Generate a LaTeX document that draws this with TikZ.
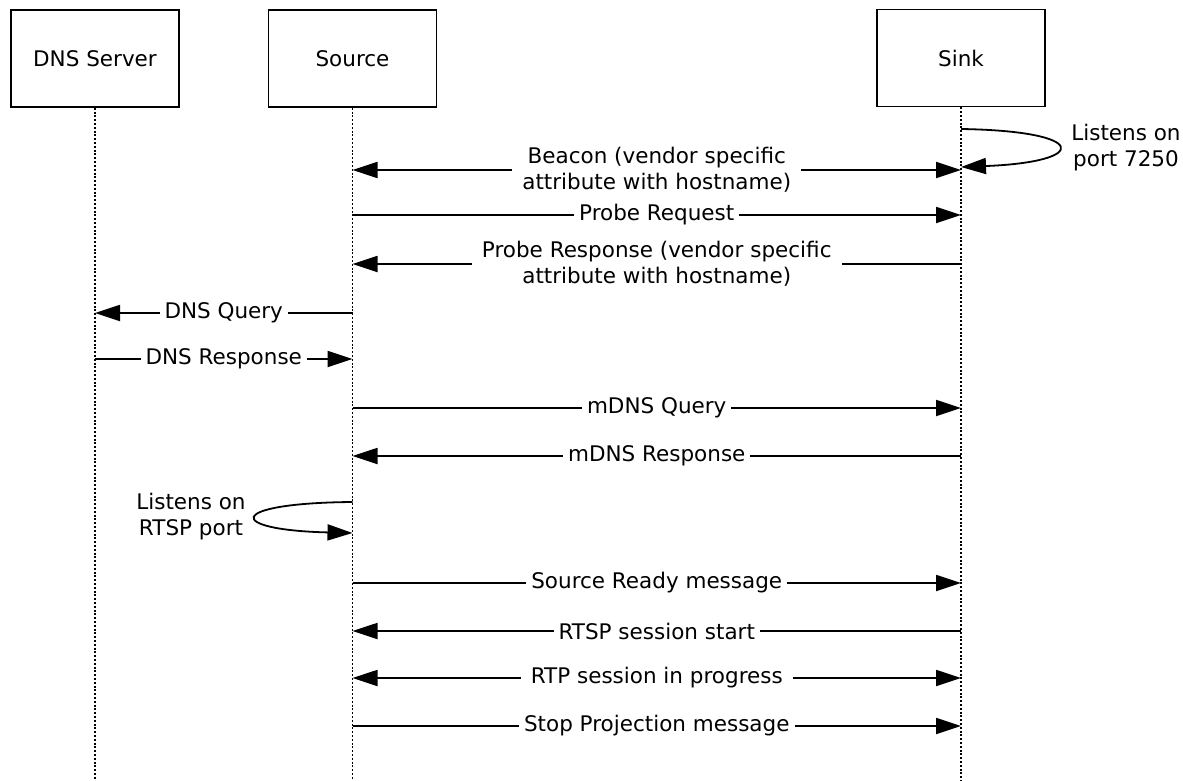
\documentclass[tikz,border=0pt]{standalone}
\usepackage{fontspec}
\setmainfont{DejaVu Sans}
\usetikzlibrary{arrows.meta}
\begin{document}
\begin{tikzpicture}[x=1pt,y=-1pt,
  >={Triangle[length=25pt,width=16pt]},
  txt/.style={font=\fontsize{21.5}{26}\selectfont},
  box/.style={txt,draw,line width=1.8pt,minimum width=168pt,minimum height=97pt},
  life/.style={line width=1.6pt,dash pattern=on 2pt off 1.8pt},
  msg/.style={line width=1.8pt},
  lbl/.style={txt,fill=white,inner xsep=5pt,inner ysep=1pt,align=center},
  wlbl/.style={lbl,inner xsep=10pt}]
\useasboundingbox (0,0) rectangle (1183,781);
% participants
\node[box] (dns) at (95,58.5) {DNS Server};
\node[box] (src) at (352.5,58.5) {Source};
\node[box] (snk) at (961,58) {Sink};
% lifelines
\coordinate (dnsE) at (dns |- 0,781);
\coordinate (srcE) at (src |- 0,781);
\coordinate (snkE) at (snk |- 0,781);
\draw[life] (dns.south) -- (dnsE);
\draw[life] (src.south) -- (srcE);
\draw[life] (snk.south) -- (snkE);
% sink self loop
\coordinate (k1) at (snk |- 0,129);
\coordinate (k2) at (snk |- 0,167);
\draw[msg,->] (k1) .. controls (1090,131) and (1090,162) .. (k2);
\node[txt,align=center] (l1) at (1126,148) {Listens on\\port 7250};
% messages
\draw[msg,<->] (src |- 0,170) -- node[wlbl] (m1) {Beacon (vendor specific\\attribute with hostname)} (snk |- 0,170);
\draw[msg,->] (src |- 0,215) -- node[lbl] (m2) {Probe Request} (snk |- 0,215);
\draw[msg,->] (snk |- 0,264) -- node[wlbl] (m3) {Probe Response (vendor specific\\attribute with hostname)} (src |- 0,264);
\draw[msg,->] (src |- 0,313) -- node[lbl] (m4) {DNS Query} (dns |- 0,313);
\draw[msg,->] (dns |- 0,359) -- node[lbl] (m5) {DNS Response} (src |- 0,359);
\draw[msg,->] (src |- 0,408) -- node[lbl] (m6) {mDNS Query} (snk |- 0,408);
\draw[msg,->] (snk |- 0,456) -- node[lbl] (m7) {mDNS Response} (src |- 0,456);
% source self loop
\coordinate (r1) at (src |- 0,502);
\coordinate (r2) at (src |- 0,533);
\draw[msg,->] (r1) .. controls (225,503) and (225,530) .. (r2);
\node[txt,align=center] (l2) at (191,517) {Listens on\\RTSP port};
\draw[msg,->] (src |- 0,583) -- node[lbl] (m8) {Source Ready message} (snk |- 0,583);
\draw[msg,->] (snk |- 0,631) -- node[lbl] (m9) {RTSP session start} (src |- 0,631);
\draw[msg,<->] (src |- 0,678) -- node[wlbl] (m10) {RTP session in progress} (snk |- 0,678);
\draw[msg,->] (src |- 0,726) -- node[lbl] (m11) {Stop Projection message} (snk |- 0,726);
\end{tikzpicture}
\end{document}
